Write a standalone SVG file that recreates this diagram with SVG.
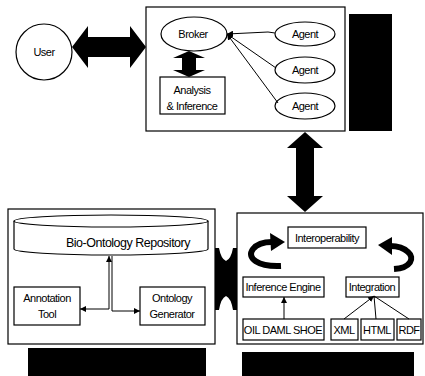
<svg xmlns="http://www.w3.org/2000/svg" width="425" height="376" viewBox="0 0 425 376">
<defs>
<style>
.ln{fill:none;stroke:#000;stroke-width:1}
.bx{fill:#fff;stroke:#000;stroke-width:1.2}
.blk{fill:#000;stroke:none}
.t{font-family:"Liberation Sans Narrow","Arial Narrow","Liberation Sans",Arial,sans-serif;font-size:11px;fill:#000;text-anchor:middle;letter-spacing:-0.5px}
.thick{fill:none;stroke:#000;stroke-width:6}
</style>
<marker id="ah" viewBox="0 0 8 8" refX="8" refY="4" markerWidth="6" markerHeight="6" orient="auto-start-reverse" markerUnits="userSpaceOnUse">
<path d="M0,0 L8,4 L0,8 Z" fill="#000"/>
</marker>
</defs>
<rect width="425" height="376" fill="#fff"/>

<g id="user">
<circle class="bx" cx="44" cy="52" r="28"/>
<text class="t" x="44" y="56">User</text>
</g>

<g id="agent-system">
<rect class="bx" x="146" y="7" width="199" height="124"/>
<rect class="blk" x="349" y="14" width="43" height="117"/>
</g>

<g id="broker">
<ellipse class="bx" cx="194" cy="34" rx="33" ry="17"/>
<text class="t" x="193" y="38">Broker</text>
</g>

<g id="analysis">
<rect class="bx" x="160" y="77" width="65" height="37"/>
<text class="t" x="192" y="94">Analysis</text>
<text class="t" x="192" y="110">&amp; Inference</text>
</g>

<g id="agent1">
<ellipse class="bx" cx="305" cy="34" rx="30" ry="12"/>
<text class="t" x="305" y="38">Agent</text>
</g>
<g id="agent2">
<ellipse class="bx" cx="305" cy="70" rx="30" ry="13"/>
<text class="t" x="305" y="74">Agent</text>
</g>
<g id="agent3">
<ellipse class="bx" cx="305" cy="106" rx="30" ry="13"/>
<text class="t" x="305" y="110">Agent</text>
</g>

<g id="repository-system">
<rect class="bx" x="8" y="209" width="207" height="135"/>
<rect class="blk" x="28" y="348" width="178" height="28"/>
</g>

<g id="repository">
<path class="bx" d="M14,221 V249 A97,6 0 0 0 208,249 V221"/>
<ellipse class="bx" cx="111" cy="221" rx="97" ry="6"/>
<text class="t" x="128" y="247" style="font-size:12.5px">Bio-Ontology Repository</text>
</g>

<g id="annotation-tool">
<rect class="bx" x="14" y="287" width="66" height="38"/>
<text class="t" x="47" y="302">Annotation</text>
<text class="t" x="47" y="318">Tool</text>
</g>

<g id="ontology-generator">
<rect class="bx" x="140" y="287" width="65" height="38"/>
<text class="t" x="172" y="302">Ontology</text>
<text class="t" x="172" y="318">Generator</text>
</g>

<g id="integration-system">
<rect class="bx" x="237" y="213" width="186" height="131"/>
<rect class="blk" x="242" y="352" width="172" height="24"/>
</g>

<g id="interoperability">
<rect class="bx" x="288" y="227" width="78" height="21"/>
<text class="t" x="327" y="242">Interoperability</text>
</g>

<g id="inference-engine">
<rect class="bx" x="243" y="277" width="81" height="20"/>
<text class="t" x="283" y="291">Inference Engine</text>
</g>

<g id="integration">
<rect class="bx" x="346" y="277" width="53" height="20"/>
<text class="t" x="372" y="291">Integration</text>
</g>

<g id="oil-daml-shoe">
<rect class="bx" x="243" y="319" width="81" height="21"/>
<text class="t" x="283" y="334">OIL DAML SHOE</text>
</g>

<g id="xml">
<rect class="bx" x="331" y="319" width="27" height="21"/>
<text class="t" x="344" y="334">XML</text>
</g>
<g id="html">
<rect class="bx" x="361" y="319" width="33" height="21"/>
<text class="t" x="377" y="334">HTML</text>
</g>
<g id="rdf">
<rect class="bx" x="397" y="319" width="24" height="21"/>
<text class="t" x="409" y="334">RDF</text>
</g>

<g id="connectors">
<path class="blk" d="M72,47 L88,26 L88,37 L130,37 L130,26 L146,47 L130,68 L130,57 L88,57 L88,68 Z"/>
<path class="blk" d="M189,51 L205,58 L196,58 L196,70 L205,70 L189,77 L173,70 L182,70 L182,58 L173,58 Z"/>
<path class="ln" d="M275,33 L268,32 L227,34" marker-end="url(#ah)"/>
<path class="ln" d="M276,68 L227,34" marker-end="url(#ah)"/>
<path class="ln" d="M278,103 L227,34" marker-end="url(#ah)"/>
<path class="blk" d="M305,132 L323,148 L314,148 L314,196 L323,196 L305,212 L287,196 L296,196 L296,148 L287,148 Z"/>
<path class="blk" d="M215,248 L219,248 Q221,259 226,261 Q231,259 233,248 L237,248 L237,310 L233,310 Q231,298 226,296 Q221,298 219,310 L215,310 Z"/>
<path class="ln" d="M109,256 V309 H80" marker-start="url(#ah)" marker-end="url(#ah)"/>
<path class="ln" d="M112,256 V311 H140" marker-end="url(#ah)"/>
<path class="thick" d="M281,266 C258,267 246,258 253,249 C257,244 264,242 272,242"/>
<path class="blk" d="M285,242 L270,233 L271,251 Z"/>
<path class="thick" d="M394,269 C411,268 415,258 408,252 C403,247 396,246 390,246"/>
<path class="blk" d="M378,245 L392,237 L392,255 Z"/>
<path class="ln" d="M284,319 V297" marker-end="url(#ah)"/>
<path class="ln" d="M344,319 L374,296" marker-end="url(#ah)"/>
<path class="ln" d="M376,319 L374,296"/>
<path class="ln" d="M409,319 L374,296"/>
</g>
</svg>
